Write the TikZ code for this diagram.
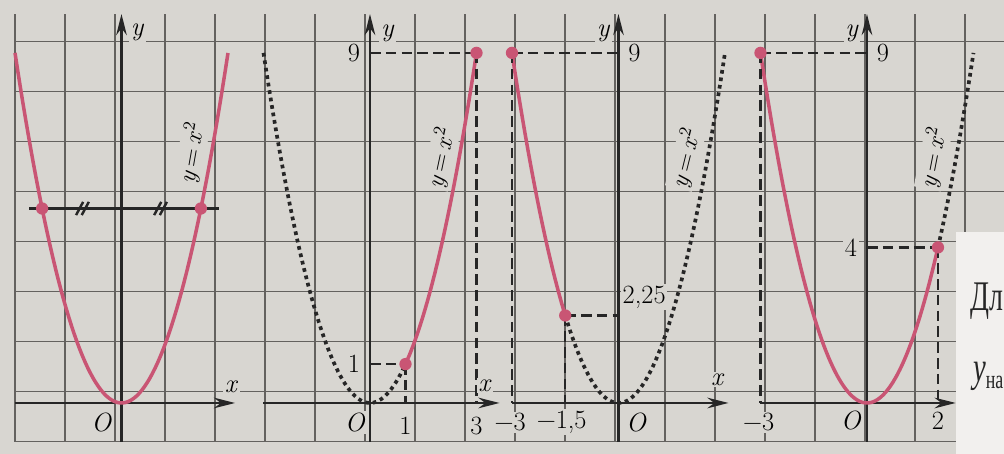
\documentclass[tikz,border=0pt]{standalone}
\usepackage{fontspec}
\usepackage{tikz}
\usetikzlibrary{arrows.meta, positioning}
\newfontfamily\cyrfont{Liberation Serif}
\definecolor{paper}{HTML}{D8D6D1}
\definecolor{gridcol}{HTML}{64625F}
\definecolor{inkcol}{HTML}{262626}
\definecolor{curvecol}{HTML}{C95574}
\definecolor{sheet}{HTML}{F2F0EE}
\newcommand{\vy}{\textit{y}}
\newcommand{\vx}{\textit{x}}
\newcommand{\parab}{\vy\,=\,\vx\textsuperscript{2}}
\tikzset{
  gridline/.style = {draw=gridcol, line width=0.65pt},
  axisline/.style = {draw=inkcol, line width=1.5pt, -{Stealth[length=12pt, width=6pt]}},
  redcurve/.style = {draw=curvecol, line width=2pt},
  dotcurve/.style = {draw=inkcol, line width=2.1pt, dash pattern=on 2.1pt off 2.2pt},
  guide/.style    = {draw=inkcol, line width=1.3pt, dash pattern=on 6pt off 3pt},
  chord/.style    = {draw=inkcol, line width=1.4pt},
  pnt/.style      = {circle, fill=curvecol, inner sep=0pt, minimum size=7pt},
  lbl/.style      = {font=\fontsize{15}{17}\selectfont, fill=paper, inner sep=1pt},
  funlbl/.style   = {font=\fontsize{14}{16}\selectfont, fill=paper, inner sep=0.5pt},
}

\begin{document}
\begin{tikzpicture}[x=0.71cm, y=0.778cm]
    \useasboundingbox (-0.4225,-0.308) rectangle (27.86,11.36);
    \fill[paper] (-0.4225,-0.308) rectangle (27.86,11.36);
    \draw[gridline] (0,0) grid (27.86,11);

    % Plot 1 : y = x^2 cut by y = 5
    \begin{scope}[shift={(3,1)}]
      \draw[axisline] (-3,0) -- (3.2,0);
      \draw[axisline] (0,-1) -- (0,10);
      \draw[redcurve] plot[domain=-3:3, samples=80] (\x,{\x*\x});
      \coordinate (l1) at (-2.6,5);
      \coordinate (r1) at (2.75,5);
      \draw[chord] (l1) -- (r1);
      \foreach \t in {-1.1,1.1}
        \foreach \s in {-0.08,0.08}
          \draw[chord] (\t+\s-0.1,4.83) -- (\t+\s+0.1,5.17);
      \node[pnt] (a1) at (-2.236,5) {};
      \node[pnt] (b1) at (2.236,5) {};
      \node[lbl] (ylab1) at (0.45,9.52) {\vy};
      \node[lbl] (xlab1) at (3.1,0.41) {\vx};
      \node[lbl] (orig1) at (-0.56,-0.51) {\textit{O}};
      \node[funlbl, rotate=80] (fun1) at (1.98,6.43) {\parab};
    \end{scope}

    % Plot 2 : segment from 1 to 3
    \begin{scope}[shift={(10,1)}]
      \draw[axisline] (-3,0) -- (3.65,0);
      \draw[axisline] (0,-1) -- (0,10);
      \draw[dotcurve] plot[domain=-3:1, samples=60] (\x,{\x*\x});
      \draw[redcurve] plot[domain=1:3, samples=40] (\x,{\x*\x});
      \coordinate (p21) at (1,1);
      \coordinate (p23) at (3,9);
      \draw[guide] (0,9) -- (p23);
      \draw[guide] (p23) -- (3,0);
      \draw[guide] (0,1) -- (p21);
      \draw[guide] (p21) -- (1,0);
      \node[pnt] (a2) at (p21) {};
      \node[pnt] (b2) at (p23) {};
      \node[lbl] (nine2) at (-0.45,9) {9};
      \node[lbl] (one2)  at (-0.45,1) {1};
      \node[lbl] (orig2) at (-0.42,-0.5) {\textit{O}};
      \node[lbl] (xone2) at (1,-0.58) {1};
      \node[lbl] (xthr2) at (3,-0.58) {3};
      \node[lbl] (ylab2) at (0.5,9.5) {\vy};
      \node[lbl] (xlab2) at (3.24,0.45) {\vx};
      \node[funlbl, rotate=78] (fun2) at (2.0,6.3) {\parab};
    \end{scope}

    % Plot 3 : segment from -3 to -1,5
    \begin{scope}[shift={(17,1)}]
      \draw[axisline] (-3,0) -- (3.1,0);
      \draw[axisline] (0,-1) -- (0,10);
      \draw[redcurve] plot[domain=-3:-1.5, samples=30] (\x,{\x*\x});
      \draw[dotcurve] plot[domain=-1.5:3, samples=70] (\x,{\x*\x});
      \coordinate (p33) at (-3,9);
      \coordinate (p31) at (-1.5,2.25);
      \draw[guide] (p33) -- (0,9);
      \draw[guide] (p33) -- (-3,0);
      \draw[guide] (p31) -- (0,2.25);
      \draw[guide] (p31) -- (-1.5,0);
      \node[pnt] (a3) at (p33) {};
      \node[pnt] (b3) at (p31) {};
      \node[lbl] (nine3) at (0.45,9) {9};
      \node[lbl, anchor=west] (val3) at (0.06,2.72) {2,25};
      \node[lbl] (xthr3) at (-3.05,-0.5) {−3};
      \node[lbl] (xhlf3) at (-1.6,-0.5) {−1,5};
      \node[lbl] (orig3) at (0.5,-0.5) {\textit{O}};
      \node[lbl] (ylab3) at (-0.42,9.5) {\vy};
      \node[lbl] (xlab3) at (2.8,0.6) {\vx};
      \node[funlbl, rotate=76] (fun3) at (1.9,6.3) {\parab};
    \end{scope}

    % Plot 4 : segment from -3 to 2
    \begin{scope}[shift={(24,1)}]
      \draw[axisline] (-3,0) -- (2.5,0);
      \draw[axisline] (0,-1) -- (0,10);
      \draw[redcurve] plot[domain=-3:2, samples=80] (\x,{\x*\x});
      \draw[dotcurve] plot[domain=2:3, samples=20] (\x,{\x*\x});
      \coordinate (p43) at (-3,9);
      \coordinate (p42) at (2,4);
      \draw[guide] (p43) -- (0,9);
      \draw[guide] (p43) -- (-3,0);
      \draw[guide] (0,4) -- (p42);
      \draw[guide] (p42) -- (2,0);
      \node[pnt] (a4) at (p43) {};
      \node[pnt] (b4) at (p42) {};
      \node[lbl] (nine4) at (0.45,9) {9};
      \node[lbl] (four4) at (-0.45,4) {4};
      \node[lbl] (xthr4) at (-3.05,-0.5) {−3};
      \node[lbl] (orig4) at (-0.45,-0.45) {\textit{O}};
      \node[lbl] (xtwo4) at (2,-0.45) {2};
      \node[lbl] (ylab4) at (-0.42,9.5) {\vy};
      \node[funlbl, rotate=79] (fun4) at (1.87,6.3) {\parab};
    \end{scope}

    % next page peeking in
    \fill[sheet] (26.52,-0.308) rectangle (27.86,5.40);
    \node[anchor=base west, inner sep=0pt, font=\cyrfont\fontsize{24}{26}\selectfont, text=inkcol]
      (word) at (26.9,3.39) {\scalebox{0.66}[1]{Дл}};
    \node[anchor=base west, inner sep=0pt, font=\cyrfont\fontsize{24}{26}\selectfont, text=inkcol]
      (ysub) at (26.98,1.55) {\scalebox{0.68}[1]{\textit{y}\raisebox{-0.35ex}{\fontsize{15}{15}\selectfont на}}};
\end{tikzpicture}
\end{document}
